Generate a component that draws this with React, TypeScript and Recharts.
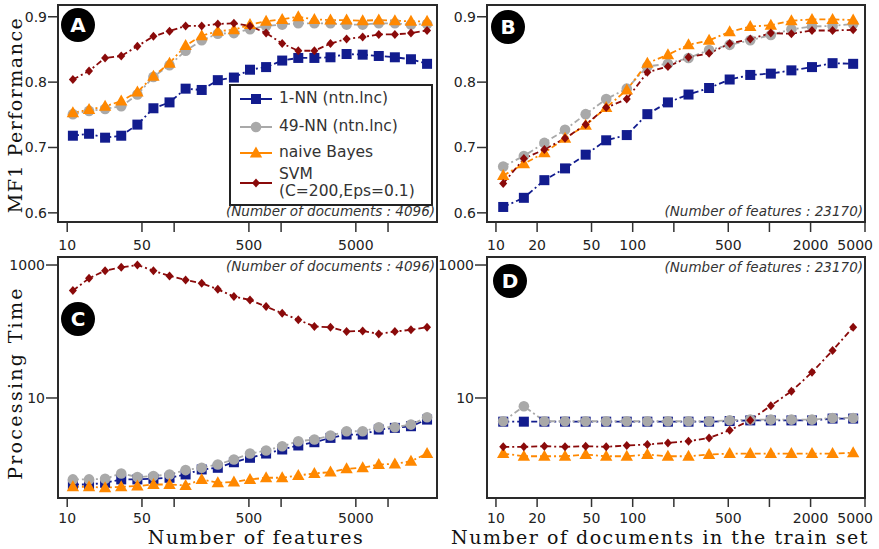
import React from 'react';
import { LineChart, Line, XAxis, YAxis } from 'recharts';

// x values: number of features (A, C) and number of training documents (B, D)
const featureCounts = [11.3, 16, 22.6, 32, 45.3, 64, 90.5, 128, 181, 256, 362, 512, 724, 1024, 1448, 2048, 2896, 4096, 5793, 8192, 11585, 16384, 23170];
const docCounts = [11.3, 16, 22.6, 32, 45.3, 64, 90.5, 128, 181, 256, 362, 512, 724, 1024, 1448, 2048, 2896, 4096];

// A: MF1 vs number of features
const mf1FeatNN1 = [0.718, 0.721, 0.715, 0.718, 0.735, 0.760, 0.769, 0.790, 0.788, 0.803, 0.807, 0.819, 0.823, 0.833, 0.837, 0.837, 0.838, 0.843, 0.842, 0.840, 0.838, 0.835, 0.828];
const mf1FeatNN49 = [0.751, 0.756, 0.759, 0.763, 0.781, 0.808, 0.826, 0.848, 0.864, 0.874, 0.875, 0.881, 0.886, 0.888, 0.890, 0.890, 0.890, 0.888, 0.888, 0.890, 0.890, 0.888, 0.889];
const mf1FeatNB = [0.753, 0.758, 0.763, 0.771, 0.785, 0.809, 0.829, 0.856, 0.871, 0.878, 0.880, 0.888, 0.893, 0.896, 0.900, 0.896, 0.895, 0.895, 0.894, 0.895, 0.894, 0.893, 0.893];
const mf1FeatSVM = [0.804, 0.817, 0.837, 0.840, 0.855, 0.870, 0.878, 0.886, 0.886, 0.889, 0.890, 0.886, 0.875, 0.859, 0.848, 0.848, 0.859, 0.866, 0.869, 0.873, 0.873, 0.875, 0.879];

// B: MF1 vs number of documents
const mf1DocNN1 = [0.609, 0.623, 0.650, 0.668, 0.689, 0.711, 0.719, 0.751, 0.769, 0.781, 0.791, 0.804, 0.811, 0.813, 0.818, 0.823, 0.829, 0.828];
const mf1DocNN49 = [0.671, 0.687, 0.707, 0.727, 0.751, 0.774, 0.790, 0.824, 0.828, 0.837, 0.849, 0.857, 0.864, 0.872, 0.881, 0.885, 0.886, 0.889];
const mf1DocNB = [0.657, 0.675, 0.692, 0.714, 0.734, 0.761, 0.788, 0.829, 0.842, 0.857, 0.864, 0.877, 0.885, 0.887, 0.894, 0.896, 0.896, 0.895];
const mf1DocSVM = [0.645, 0.683, 0.697, 0.714, 0.735, 0.761, 0.774, 0.815, 0.824, 0.838, 0.844, 0.859, 0.866, 0.875, 0.874, 0.879, 0.879, 0.880];

// C: processing time vs number of features
const timeFeatNN1 = [0.5, 0.5, 0.531, 0.596, 0.596, 0.609, 0.631, 0.708, 0.841, 0.891, 1.08, 1.26, 1.46, 1.68, 1.93, 2.16, 2.51, 2.82, 2.82, 3.35, 3.55, 3.76, 4.73];
const timeFeatNN49 = [0.596, 0.596, 0.609, 0.733, 0.646, 0.668, 0.708, 0.822, 0.891, 1.0, 1.19, 1.46, 1.62, 1.88, 2.24, 2.37, 2.72, 3.16, 3.16, 3.63, 3.63, 3.98, 5.13];
const timeFeatNB = [0.462, 0.462, 0.447, 0.462, 0.473, 0.5, 0.5, 0.484, 0.596, 0.531, 0.543, 0.596, 0.631, 0.631, 0.684, 0.733, 0.767, 0.861, 0.891, 1.0, 1.02, 1.12, 1.46];
const timeFeatSVM = [412, 631, 822, 923, 1000, 822, 684, 596, 531, 431, 335, 298, 237, 188, 150, 119, 116, 100, 102, 92, 100, 106, 116];

// D: processing time vs number of documents
const timeDocNN1 = [4.4, 4.4, 4.4, 4.4, 4.4, 4.4, 4.4, 4.4, 4.4, 4.4, 4.4, 4.5, 4.6, 4.6, 4.6, 4.6, 4.9, 4.9];
const timeDocNN49 = [4.47, 7.5, 4.47, 4.47, 4.47, 4.47, 4.47, 4.47, 4.47, 4.47, 4.47, 4.62, 4.73, 4.73, 4.73, 4.73, 5.01, 5.01];
const timeDocNB = [1.46, 1.33, 1.33, 1.33, 1.41, 1.33, 1.33, 1.41, 1.33, 1.33, 1.41, 1.46, 1.46, 1.46, 1.46, 1.46, 1.46, 1.50];
const timeDocSVM = [1.84, 1.84, 1.88, 1.84, 1.88, 1.84, 1.93, 2.0, 2.11, 2.24, 2.51, 3.27, 4.62, 7.67, 12.6, 24.3, 51.9, 116];

const featTicks = [10, 50, 100, 500, 1000, 5000, 10000];
const featTickLabels = [10, 50, 500, 5000];
const docTicks = [10, 20, 50, 100, 200, 500, 1000, 2000, 5000];
const docTickLabels = [10, 20, 50, 100, 500, 2000, 5000];
const mf1Ticks = [0.6, 0.7, 0.8, 0.9];
const timeTicks = [10, 1000];

const series = [
  { key: 'nn1', name: '1-NN (ntn.lnc)', color: '#121c8e', shape: 'square' },
  { key: 'nn49', name: '49-NN (ntn.lnc)', color: '#a9a9a9', shape: 'circle' },
  { key: 'nb', name: 'naive Bayes', color: '#ff8800', shape: 'triangle' },
  { key: 'svm', name: 'SVM', color: '#8a0a0a', shape: 'diamond' },
];

const rows = (xs: number[], a: number[], b: number[], c: number[], d: number[]) =>
  xs.map((x, i) => ({ x, nn1: a[i], nn49: b[i], nb: c[i], svm: d[i] }));

const dataA = rows(featureCounts, mf1FeatNN1, mf1FeatNN49, mf1FeatNB, mf1FeatSVM);
const dataB = rows(docCounts, mf1DocNN1, mf1DocNN49, mf1DocNB, mf1DocSVM);
const dataC = rows(featureCounts, timeFeatNN1, timeFeatNN49, timeFeatNB, timeFeatSVM);
const dataD = rows(docCounts, timeDocNN1, timeDocNN49, timeDocNB, timeDocSVM);

const SANS = '"DejaVu Sans", sans-serif';
const SERIF = '"DejaVu Serif", serif';

function Mark({ shape, cx, cy, color }: any) {
  if (cx == null || cy == null) return null;
  if (shape === 'square') return <rect x={cx - 5} y={cy - 5} width={10} height={10} fill={color} />;
  if (shape === 'circle') return <circle cx={cx} cy={cy} r={5.3} fill={color} />;
  if (shape === 'triangle')
    return <polygon points={`${cx},${cy - 6.5} ${cx + 6.2},${cy + 4.5} ${cx - 6.2},${cy + 4.5}`} fill={color} />;
  return <polygon points={`${cx},${cy - 4.5} ${cx + 4},${cy} ${cx},${cy + 4.5} ${cx - 4},${cy}`} fill={color} />;
}

function Badge({ letter, x, y }: any) {
  return (
    <div style={{ position: 'absolute', left: x - 17, top: y - 17, width: 34, height: 34, borderRadius: '50%', background: '#000',
      color: '#fff', fontFamily: SANS, fontWeight: 700, fontSize: 20, lineHeight: '34px', textAlign: 'center' }}>{letter}</div>
  );
}

function Note({ text, right, top }: any) {
  return (
    <div style={{ position: 'absolute', right, top, fontFamily: SANS, fontStyle: 'italic', fontSize: 13.5, color: '#333', whiteSpace: 'nowrap' }}>{text}</div>
  );
}

const makeXTick = (labels: number[], endValue: number | null) => (props: any) => {
  const { x, y, payload } = props;
  const v = payload.value;
  if (!labels.includes(v)) return <g />;
  const atEnd = v === endValue;
  return (
    <text x={atEnd ? x + 8 : x} y={y} dy="0.71em" textAnchor={atEnd ? 'end' : 'middle'} fill="#222" fontSize={14} fontFamily={SANS}>
      {v}
    </text>
  );
};

function Panel({ data, left, top, width, height, margin, yWidth, xHeight, xDomain, xTicks, xLabels, xEnd, xTickSize, xTickMargin,
  yLog, yDomain, yTicks, yTickSize, yFmt }: any) {
  const plotLeft = left + margin.left + yWidth;
  const plotTop = top + margin.top;
  const plotW = width - margin.left - margin.right - yWidth;
  const plotH = height - margin.top - margin.bottom - xHeight;
  const tickStyle = { fill: '#222', fontSize: 14, fontFamily: SANS };
  return (
    <>
      <div style={{ position: 'absolute', left, top }}>
        <LineChart width={width} height={height} data={data} margin={margin}>
          <XAxis dataKey="x" type="number" scale="log" domain={xDomain} allowDataOverflow ticks={xTicks} interval={0}
            height={xHeight} axisLine={false} tickLine={{ stroke: '#333', strokeWidth: 1.5 }} tickSize={xTickSize} tickMargin={xTickMargin}
            tick={makeXTick(xLabels, xEnd)} />
          <YAxis type="number" scale={yLog ? 'log' : 'linear'} domain={yDomain} allowDataOverflow ticks={yTicks} interval={0}
            width={yWidth} axisLine={false} tickLine={{ stroke: '#333', strokeWidth: 1.5 }} tickSize={yTickSize} tickMargin={1}
            tick={tickStyle} tickFormatter={yFmt} />
          {series.map((s) => (
            <Line key={s.key} dataKey={s.key} type="linear" stroke={s.color} strokeWidth={1.8} strokeDasharray="6 3 2 3"
              isAnimationActive={false} activeDot={false}
              dot={(p: any) => <Mark key={`${s.key}-${p.index}`} shape={s.shape} cx={p.cx} cy={p.cy} color={s.color} />} />
          ))}
        </LineChart>
      </div>
      <div style={{ position: 'absolute', left: plotLeft - 1, top: plotTop - 1, width: plotW + 2, height: plotH + 2,
        border: '2px solid #2a2a2a', boxSizing: 'border-box', pointerEvents: 'none' }} />
    </>
  );
}

function LegendBox() {
  const item = (s: any) => (
    <svg width={32} height={14} style={{ display: 'block' }}>
      <line x1={0} y1={7} x2={32} y2={7} stroke={s.color} strokeWidth={2} />
      <Mark shape={s.shape} cx={16} cy={7} color={s.color} />
    </svg>
  );
  const rowStyle: any = { position: 'absolute', left: 9, display: 'flex', alignItems: 'center', gap: 7 };
  return (
    <div style={{ position: 'absolute', left: 229, top: 84, width: 204, height: 122, border: '2px solid #222', boxSizing: 'border-box',
      background: '#fff', fontFamily: SANS, fontSize: 15.5, color: '#333', lineHeight: '17px' }}>
      <div style={{ ...rowStyle, top: 4 }}>{item(series[0])}<span>{series[0].name}</span></div>
      <div style={{ ...rowStyle, top: 32 }}>{item(series[1])}<span>{series[1].name}</span></div>
      <div style={{ ...rowStyle, top: 58 }}>{item(series[2])}<span>{series[2].name}</span></div>
      <div style={{ ...rowStyle, top: 80 }}>{item(series[3])}<span>SVM<br />(C=200,Eps=0.1)</span></div>
    </div>
  );
}

export default function App() {
  const mf1Fmt = (v: number) => v.toFixed(1);
  const timeFmt = (v: number) => String(v);
  const labelStyle: any = { position: 'absolute', fontFamily: SERIF, fontSize: 19, letterSpacing: 1.5, color: '#111', whiteSpace: 'nowrap' };
  return (
    <div style={{ position: 'absolute', left: 0, top: 0, width: 879, height: 549, background: '#fff', overflow: 'hidden' }}>
      <Panel data={dataA} left={0} top={0} width={440} height={262} margin={{ top: 5, right: 3, bottom: 12, left: 0 }}
        yWidth={58} xHeight={28} xDomain={[8.2, 28700]} xTicks={featTicks} xLabels={featTickLabels} xEnd={null} xTickSize={10} xTickMargin={8}
        yLog={false} yDomain={[0.586, 0.918]} yTicks={mf1Ticks} yTickSize={10} yFmt={mf1Fmt} />
      <Panel data={dataB} left={430} top={0} width={449} height={262} margin={{ top: 5, right: 14, bottom: 12, left: 0 }}
        yWidth={57} xHeight={28} xDomain={[8.6, 5000]} xTicks={docTicks} xLabels={docTickLabels} xEnd={5000} xTickSize={10} xTickMargin={8}
        yLog={false} yDomain={[0.586, 0.918]} yTicks={mf1Ticks} yTickSize={10} yFmt={mf1Fmt} />
      <Panel data={dataC} left={0} top={250} width={440} height={299} margin={{ top: 7, right: 3, bottom: 0, left: 0 }}
        yWidth={58} xHeight={51} xDomain={[8.2, 28700]} xTicks={featTicks} xLabels={featTickLabels} xEnd={null} xTickSize={9} xTickMargin={6}
        yLog yDomain={[0.313, 1320]} yTicks={timeTicks} yTickSize={12} yFmt={timeFmt} />
      <Panel data={dataD} left={430} top={250} width={449} height={299} margin={{ top: 7, right: 14, bottom: 0, left: 0 }}
        yWidth={57} xHeight={51} xDomain={[8.6, 5000]} xTicks={docTicks} xLabels={docTickLabels} xEnd={5000} xTickSize={9} xTickMargin={6}
        yLog yDomain={[0.313, 1320]} yTicks={timeTicks} yTickSize={12} yFmt={timeFmt} />

      <LegendBox />

      <Note text="(Number of documents : 4096)" right={879 - 435} top={203} />
      <Note text="(Number of features : 23170)" right={879 - 863} top={203} />
      <Note text="(Number of documents : 4096)" right={879 - 435} top={258} />
      <Note text="(Number of features : 23170)" right={879 - 863} top={259} />

      <Badge letter="A" x={78} y={25} />
      <Badge letter="B" x={508} y={27} />
      <Badge letter="C" x={78} y={319} />
      <Badge letter="D" x={510} y={281} />

      <div style={{ ...labelStyle, left: 15, top: 115, transform: 'translate(-50%, -50%) rotate(-90deg)' }}>MF1 Performance</div>
      <div style={{ ...labelStyle, left: 15, top: 383, letterSpacing: 2.3, transform: 'translate(-50%, -50%) rotate(-90deg)' }}>Processing Time</div>
      <div style={{ ...labelStyle, left: 256, top: 537, transform: 'translate(-50%, -50%)' }}>Number of features</div>
      <div style={{ ...labelStyle, left: 660, top: 537, transform: 'translate(-50%, -50%)' }}>Number of documents in the train set</div>
    </div>
  );
}
